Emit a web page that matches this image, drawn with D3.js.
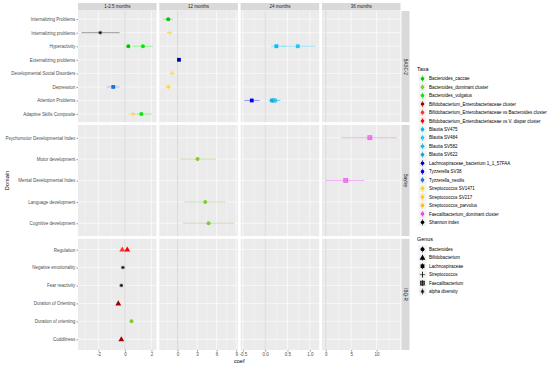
<!DOCTYPE html>
<html>
<head>
<meta charset="utf-8">
<script src="https://cdn.jsdelivr.net/npm/d3@7"></script>
<style>
  body { margin: 0; background: #fff; }
  svg text { font-family: "Liberation Sans", Arial, sans-serif; }
</style>
</head>
<body>
<div id="chart"></div>
<script>
// facets
const timepoints = ["1-2.5 months", "12 months", "24 months", "36 months"];
const instruments = ["BASC-2", "Bayley", "IBQ-R"];
const domainsBASC = ["Internalizing Problems", "Internalizing problems", "Hyperactivity", "Externalizing problems",
    "Developmental Social Disorders", "Depression", "Attention Problems", "Adaptive Skills Composite"];
const domainsBayley = ["Psychomotor Developmental Index", "Motor development", "Mental Developmental Index",
    "Language development", "Cognitive development"];
const domainsIBQ = ["Regulation", "Negative emotionality", "Fear reactivity", "Duration of Orienting",
    "Duration of orienting", "Cuddliness"];

// legends
const taxa = ["Bacteroides_caccae", "Bacteroides_dominant cluster", "Bacteroides_vulgatus",
    "Bifidobacterium_Enterobacteriaceae cluster", "Bifidobacterium_Enterobacteriaceae vs Bacteroides cluster",
    "Bifidobacterium_Enterobacteriaceae vs V. dispar cluster", "Blautia SV475", "Blautia SV484", "Blautia SV582",
    "Blautia SV622", "Lachnospiraceae_bacterium 1_1_57FAA", "Tyzzerella SV38", "Tyzzerella_nexilis",
    "Streptococcus SV1471", "Streptococcus SV217", "Streptococcus_parvulus", "Faecalibacterium_dominant cluster",
    "Shannon index"];
const taxaColors = ["#00c800", "#80cc33", "#00ee00", "#a50000", "#ff3333", "#ff0000", "#00bfff", "#22c8f5",
    "#1eb4ea", "#10a6d8", "#0000a8", "#0000f0", "#1e72d8", "#ffd700", "#ffc81e", "#ffbf00", "#ee44ee", "#000000"];
const taxaGenus = ["Bacteroides", "Bacteroides", "Bacteroides", "Bifidobacterium", "Bifidobacterium",
    "Bifidobacterium", "Lachnospiraceae", "Lachnospiraceae", "Lachnospiraceae", "Lachnospiraceae",
    "Lachnospiraceae", "Lachnospiraceae", "Lachnospiraceae", "Streptococcus", "Streptococcus", "Streptococcus",
    "Faecalibacterium", "alpha diversity"];
const genera = ["Bacteroides", "Bifidobacterium", "Lachnospiraceae", "Streptococcus", "Faecalibacterium", "alpha diversity"];

// x ticks per time column
const xTicks = [[-2, 0, 2], [0, 3, 6, 9], [-0.5, 0, 0.5, 1], [0, 5, 10]];

// estimates
const resInstrument = ["BASC-2", "BASC-2", "BASC-2", "BASC-2", "BASC-2", "BASC-2", "BASC-2", "BASC-2", "BASC-2",
    "BASC-2", "BASC-2", "BASC-2", "BASC-2", "BASC-2", "BASC-2", "BASC-2", "BASC-2", "Bayley", "Bayley", "Bayley",
    "Bayley", "Bayley", "IBQ-R", "IBQ-R", "IBQ-R", "IBQ-R", "IBQ-R", "IBQ-R", "IBQ-R"];
const resTime = ["1-2.5 months", "1-2.5 months", "1-2.5 months", "1-2.5 months", "1-2.5 months", "1-2.5 months",
    "12 months", "12 months", "12 months", "12 months", "12 months", "24 months", "24 months", "24 months",
    "24 months", "24 months", "24 months", "12 months", "12 months", "12 months", "36 months", "36 months",
    "1-2.5 months", "1-2.5 months", "1-2.5 months", "1-2.5 months", "1-2.5 months", "1-2.5 months", "1-2.5 months"];
const resDomain = ["Internalizing problems", "Hyperactivity", "Hyperactivity", "Depression",
    "Adaptive Skills Composite", "Adaptive Skills Composite", "Internalizing Problems", "Internalizing problems",
    "Externalizing problems", "Developmental Social Disorders", "Depression", "Hyperactivity", "Hyperactivity",
    "Attention Problems", "Attention Problems", "Attention Problems", "Attention Problems", "Motor development",
    "Language development", "Cognitive development", "Psychomotor Developmental Index", "Mental Developmental Index",
    "Regulation", "Regulation", "Negative emotionality", "Fear reactivity", "Duration of Orienting",
    "Duration of orienting", "Cuddliness"];
const resTaxon = ["Shannon index", "Bacteroides_caccae", "Bacteroides_vulgatus", "Tyzzerella_nexilis",
    "Streptococcus SV217", "Bacteroides_vulgatus", "Bacteroides_caccae", "Streptococcus SV1471",
    "Lachnospiraceae_bacterium 1_1_57FAA", "Streptococcus SV1471", "Streptococcus_parvulus", "Blautia SV475",
    "Blautia SV484", "Tyzzerella SV38", "Blautia SV582", "Blautia SV622", "Blautia SV484",
    "Bacteroides_dominant cluster", "Bacteroides_dominant cluster", "Bacteroides_dominant cluster",
    "Faecalibacterium_dominant cluster", "Faecalibacterium_dominant cluster",
    "Bifidobacterium_Enterobacteriaceae vs Bacteroides cluster",
    "Bifidobacterium_Enterobacteriaceae vs V. dispar cluster", "Shannon index", "Shannon index",
    "Bifidobacterium_Enterobacteriaceae cluster", "Bacteroides_dominant cluster",
    "Bifidobacterium_Enterobacteriaceae cluster"];
const resCoef = [-1.86, 0.26, 1.36, -0.88, 0.63, 1.24, -1.43, -1.23, 0.22, -0.82, -1.43, 0.25, 0.73, -0.30, 0.15,
    0.19, 0.22, 3.08, 4.26, 4.77, 8.68, 3.94, -0.20, 0.18, -0.15, -0.27, -0.50, 0.50, -0.27];
const resLow = [-3.27, 0.15, 0.58, -1.38, 0.25, 0.90, -2.25, -1.62, 0.10, -1.20, -1.85, 0.13, 0.38, -0.47, 0.07,
    0.10, 0.12, 0.42, 1.03, 0.82, 3.02, -0.05, -0.30, 0.08, -0.25, -0.37, -0.58, 0.42, -0.35];
const resHigh = [-0.40, 0.37, 2.12, -0.40, 0.98, 2.07, -0.71, -0.85, 0.34, -0.45, -1.00, 0.45, 1.13, -0.12, 0.28,
    0.33, 0.35, 5.90, 7.38, 8.72, 14.0, 7.60, -0.10, 0.28, -0.05, -0.17, -0.42, 0.58, -0.19];

const rowDomains = [domainsBASC, domainsBayley, domainsIBQ];

const width = 550, height = 366;
const panelLeft = 78, panelTop = 11, panelRight = 400.5, panelBottom = 350, gap = 2.75;
const pw = (panelRight - panelLeft - 3 * gap) / 4;
const ph = (panelBottom - panelTop - 2 * gap) / 3;
const fs = 4.5;

const svg = d3.select("#chart").append("svg")
    .attr("width", width)
    .attr("height", height);

const results = resCoef.map((c, i) => ({
    inst: resInstrument[i], time: resTime[i], domain: resDomain[i], taxon: resTaxon[i],
    coef: c, lo: resLow[i], hi: resHigh[i]
}));

const colorOf = d3.scaleOrdinal(taxa, taxaColors);
const genusOf = d3.scaleOrdinal(taxa, taxaGenus);

// x scale per column, free like facet_grid(scales = "free")
const xScales = timepoints.map((t, ci) => {
    const sub = results.filter(d => d.time == t);
    const lo = d3.min(sub, d => d.lo), hi = d3.max(sub, d => d.hi);
    const pad = (hi - lo) * 0.05;
    const x0 = panelLeft + ci * (pw + gap);
    return d3.scaleLinear().domain([lo - pad, hi + pad]).range([x0, x0 + pw]);
});
const yScales = rowDomains.map((doms, ri) => {
    const y0 = panelTop + ri * (ph + gap);
    return d3.scalePoint().domain(doms).range([y0, y0 + ph]).padding(0.6);
});

function drawShape(g, genus, x, y, color) {
    if (genus == "Bacteroides") {
        g.append("circle").attr("cx", x).attr("cy", y).attr("r", 2).attr("fill", color);
    } else if (genus == "Bifidobacterium") {
        g.append("path").attr("d", d3.symbol(d3.symbolTriangle, 15)())
            .attr("transform", `translate(${x},${y + 0.3})`).attr("fill", color);
    } else if (genus == "Lachnospiraceae") {
        g.append("rect").attr("x", x - 1.9).attr("y", y - 1.9).attr("width", 3.8).attr("height", 3.8).attr("fill", color);
    } else if (genus == "Streptococcus") {
        g.append("path").attr("d", `M${x - 2.6},${y}H${x + 2.6}M${x},${y - 2.6}V${y + 2.6}`)
            .attr("stroke", color).attr("stroke-width", 0.6);
    } else if (genus == "Faecalibacterium") {
        g.append("rect").attr("x", x - 2).attr("y", y - 2).attr("width", 4).attr("height", 4)
            .attr("fill", color).attr("fill-opacity", 0.45).attr("stroke", color).attr("stroke-width", 0.6);
        g.append("path").attr("d", `M${x - 2},${y - 2}L${x + 2},${y + 2}M${x - 2},${y + 2}L${x + 2},${y - 2}`)
            .attr("stroke", color).attr("stroke-width", 0.5);
    } else {
        g.append("circle").attr("cx", x).attr("cy", y).attr("r", 2.1)
            .attr("fill", "#999").attr("fill-opacity", 0.5);
        g.append("path").attr("d", `M${x - 1.6},${y}H${x + 1.6}M${x},${y - 1.6}V${y + 1.6}M${x - 1.1},${y - 1.1}L${x + 1.1},${y + 1.1}M${x - 1.1},${y + 1.1}L${x + 1.1},${y - 1.1}`)
            .attr("stroke", color).attr("stroke-width", 0.7);
    }
}

// panels
rowDomains.forEach((doms, ri) => {
    const y = yScales[ri];
    timepoints.forEach((t, ci) => {
        const x = xScales[ci];
        const [x0, x1] = x.range();
        const [y0, y1] = y.range();
        const g = svg.append("g");
        g.append("rect").attr("x", x0).attr("y", y0).attr("width", x1 - x0).attr("height", y1 - y0).attr("fill", "#ebebeb");

        // minor grid
        const tk = xTicks[ci], step = tk[1] - tk[0];
        const minor = d3.range(tk[0] - step / 2, tk[tk.length - 1] + step, step)
            .filter(v => v >= x.domain()[0] && v <= x.domain()[1]);
        g.selectAll(".minor").data(minor).enter().append("line")
            .attr("x1", d => x(d)).attr("x2", d => x(d)).attr("y1", y0).attr("y2", y1)
            .attr("stroke", "#fff").attr("stroke-width", 0.3);
        g.selectAll(".major").data(tk).enter().append("line")
            .attr("x1", d => x(d)).attr("x2", d => x(d)).attr("y1", y0).attr("y2", y1)
            .attr("stroke", "#fff").attr("stroke-width", 0.6);
        g.selectAll(".hgrid").data(doms).enter().append("line")
            .attr("x1", x0).attr("x2", x1).attr("y1", d => y(d)).attr("y2", d => y(d))
            .attr("stroke", "#fff").attr("stroke-width", 0.6);

        // zero line
        g.append("line").attr("x1", x(0)).attr("x2", x(0)).attr("y1", y0).attr("y2", y1)
            .attr("stroke", "#c6c6c6").attr("stroke-width", 0.6);

        const sub = results.filter(d => d.time == t && d.inst == instruments[ri]);
        g.selectAll(".ci").data(sub).enter().append("line")
            .attr("x1", d => x(d.lo)).attr("x2", d => x(d.hi))
            .attr("y1", d => y(d.domain)).attr("y2", d => y(d.domain))
            .attr("stroke", d => colorOf(d.taxon)).attr("stroke-opacity", 0.55).attr("stroke-width", 0.7);
        sub.forEach(d => drawShape(g, genusOf(d.taxon), x(d.coef), y(d.domain), colorOf(d.taxon)));
    });

    // y axis on the left column
    const ax = svg.append("g")
        .attr("transform", `translate(${panelLeft},0)`)
        .call(d3.axisLeft(y).tickSize(1.5).tickPadding(1.2));
    ax.select(".domain").remove();
    ax.selectAll("line").attr("stroke", "#333").attr("stroke-width", 0.5);
    ax.selectAll("text").attr("fill", "#4d4d4d").style("font-size", fs + "px");

    // right strip
    const [sy0, sy1] = y.range();
    svg.append("rect").attr("x", panelRight + 1).attr("y", sy0).attr("width", 8).attr("height", sy1 - sy0).attr("fill", "#d9d9d9");
    svg.append("text")
        .attr("transform", `translate(${panelRight + 3.6},${(sy0 + sy1) / 2}) rotate(90)`)
        .attr("text-anchor", "middle")
        .attr("fill", "#1a1a1a")
        .style("font-size", fs + "px")
        .text(instruments[ri]);
});

// top strips and x axes
timepoints.forEach((t, ci) => {
    const x = xScales[ci];
    const [x0, x1] = x.range();
    svg.append("rect").attr("x", x0).attr("y", 3).attr("width", x1 - x0).attr("height", 7.5).attr("fill", "#d9d9d9");
    svg.append("text")
        .attr("x", (x0 + x1) / 2).attr("y", 8.4)
        .attr("text-anchor", "middle").attr("fill", "#1a1a1a")
        .style("font-size", fs + "px")
        .text(t);

    const fmt = ci == 2 ? d3.format(".1f") : d3.format("d");
    const ax = svg.append("g")
        .attr("transform", `translate(0,${panelBottom})`)
        .call(d3.axisBottom(x).tickValues(xTicks[ci]).tickSize(1.5).tickPadding(1.5)
            .tickFormat(d => fmt(d).replace("−", "-")));
    ax.select(".domain").remove();
    ax.selectAll("line").attr("stroke", "#333").attr("stroke-width", 0.5);
    ax.selectAll("text").attr("fill", "#4d4d4d").style("font-size", fs + "px");
});

// axis titles
svg.append("text")
    .attr("x", (panelLeft + panelRight) / 2).attr("y", 363)
    .attr("text-anchor", "middle").attr("fill", "#000")
    .style("font-size", "5.6px")
    .text("coef");
svg.append("text")
    .attr("transform", `translate(8.5,${(panelTop + panelBottom) / 2}) rotate(-90)`)
    .attr("text-anchor", "middle").attr("fill", "#000")
    .style("font-size", "5.6px")
    .text("Domain");

// legends
const keyX = 422.5, keyStep = 8.45;
const taxaLeg = svg.append("g");
taxaLeg.append("text").attr("x", 417).attr("y", 71).style("font-size", "5.4px").text("Taxa");
taxa.forEach((name, i) => {
    const cy = 78.7 + i * keyStep;
    taxaLeg.append("rect").attr("x", keyX - 4.2).attr("y", cy - 4.2).attr("width", 8.4).attr("height", 8.4)
        .attr("fill", "#f2f2f2").attr("stroke", "#fff").attr("stroke-width", 0.4);
    taxaLeg.append("line").attr("x1", keyX).attr("x2", keyX).attr("y1", cy - 3).attr("y2", cy + 3)
        .attr("stroke", taxaColors[i]).attr("stroke-width", 0.6);
    taxaLeg.append("circle").attr("cx", keyX).attr("cy", cy).attr("r", 1.8).attr("fill", taxaColors[i]);
    taxaLeg.append("text").attr("x", 429).attr("y", cy + 1.6).style("font-size", fs + "px").text(name);
});

const genusLeg = svg.append("g");
genusLeg.append("text").attr("x", 417).attr("y", 241).style("font-size", "5.4px").text("Genus");
genera.forEach((name, i) => {
    const cy = 249.3 + i * keyStep;
    genusLeg.append("rect").attr("x", keyX - 4.2).attr("y", cy - 4.2).attr("width", 8.4).attr("height", 8.4)
        .attr("fill", "#f2f2f2").attr("stroke", "#fff").attr("stroke-width", 0.4);
    genusLeg.append("line").attr("x1", keyX).attr("x2", keyX).attr("y1", cy - 3).attr("y2", cy + 3)
        .attr("stroke", "#000").attr("stroke-width", 0.6);
    drawShape(genusLeg, name, keyX, cy, "#000");
    genusLeg.append("text").attr("x", 429).attr("y", cy + 1.6).style("font-size", fs + "px").text(name);
});
</script>
</body>
</html>
